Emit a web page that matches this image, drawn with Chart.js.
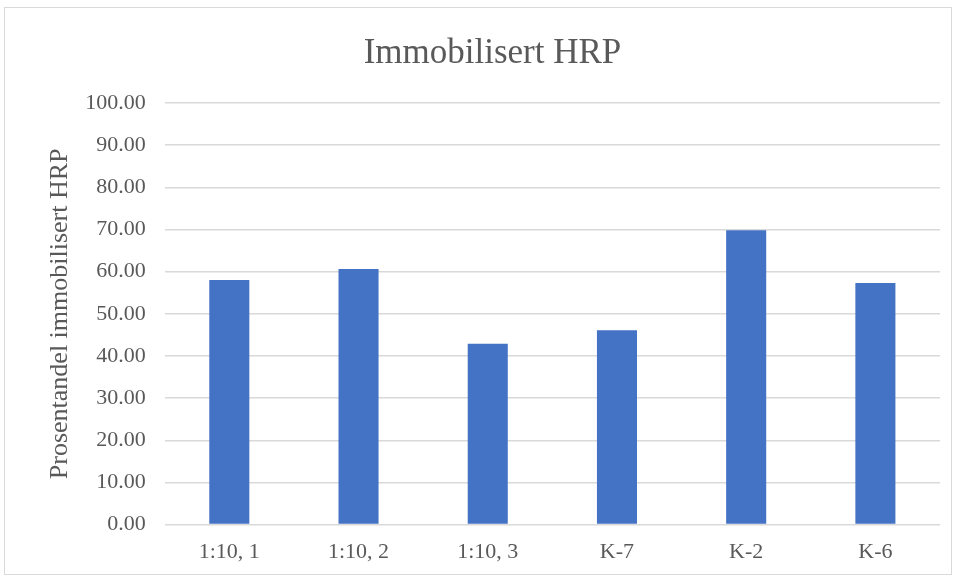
<!DOCTYPE html>
<html>
<head>
<meta charset="utf-8">
<script src="https://cdn.jsdelivr.net/npm/chart.js@4"></script>
<style>
    body { margin: 0; background: #fff; }
    #frame {
        position: absolute; left: 4px; top: 7px;
        width: 946px; height: 566px;
        border: 1px solid #d9d9d9;
    }
</style>
</head>
<body>
<div id="frame"><canvas id="hrp-chart"></canvas></div>
<script>
// Immobilised HRP share per sample
const categories = ["1:10, 1", "1:10, 2", "1:10, 3", "K-7", "K-2", "K-6"];
const shares = [58.0, 60.6, 42.9, 46.1, 69.8, 57.3];
const yTicks = [0, 10, 20, 30, 40, 50, 60, 70, 80, 90, 100];

const textGrey = '#595959';
const serif = "'Liberation Serif', 'Times New Roman', serif";

function drawChart() {
    const ctx = document.getElementById("hrp-chart").getContext("2d");
    new Chart(ctx, {
        type: 'bar',
        data: {
            labels: categories,
            datasets: [{
                label: 'Prosentandel immobilisert HRP',
                data: shares,
                backgroundColor: '#4472C4',
                borderWidth: 0,
                categoryPercentage: 1,
                barPercentage: 0.31
            }]
        },
        options: {
            responsive: true,
            maintainAspectRatio: false,
            animation: false,
            layout: { padding: { left: 40, right: 11, top: 25, bottom: -5 } },
            plugins: {
                legend: { display: false },
                tooltip: { enabled: false },
                title: {
                    display: true,
                    text: 'Immobilisert HRP',
                    color: textGrey,
                    font: { family: serif, size: 35, weight: 'normal' },
                    padding: { top: 0, bottom: 28 }
                }
            },
            scales: {
                x: {
                    grid: { display: false, drawTicks: false },
                    border: { display: false },
                    ticks: {
                        color: textGrey,
                        font: { family: serif, size: 22 },
                        padding: 14
                    }
                },
                y: {
                    min: 0,
                    max: 100,
                    afterBuildTicks: axis => {
                        axis.ticks = yTicks.map(v => ({ value: v }));
                    },
                    grid: { color: '#d9d9d9', lineWidth: 1.5, drawTicks: false },
                    border: { display: false },
                    ticks: {
                        color: textGrey,
                        font: { family: serif, size: 22 },
                        padding: 19,
                        callback: v => Number(v).toFixed(2)
                    },
                    title: {
                        display: true,
                        text: 'Prosentandel immobilisert HRP',
                        color: textGrey,
                        font: { family: serif, size: 26, weight: 'normal' },
                        padding: { top: 0, bottom: -10 }
                    }
                }
            }
        }
    });
}

drawChart();
</script>
</body>
</html>
